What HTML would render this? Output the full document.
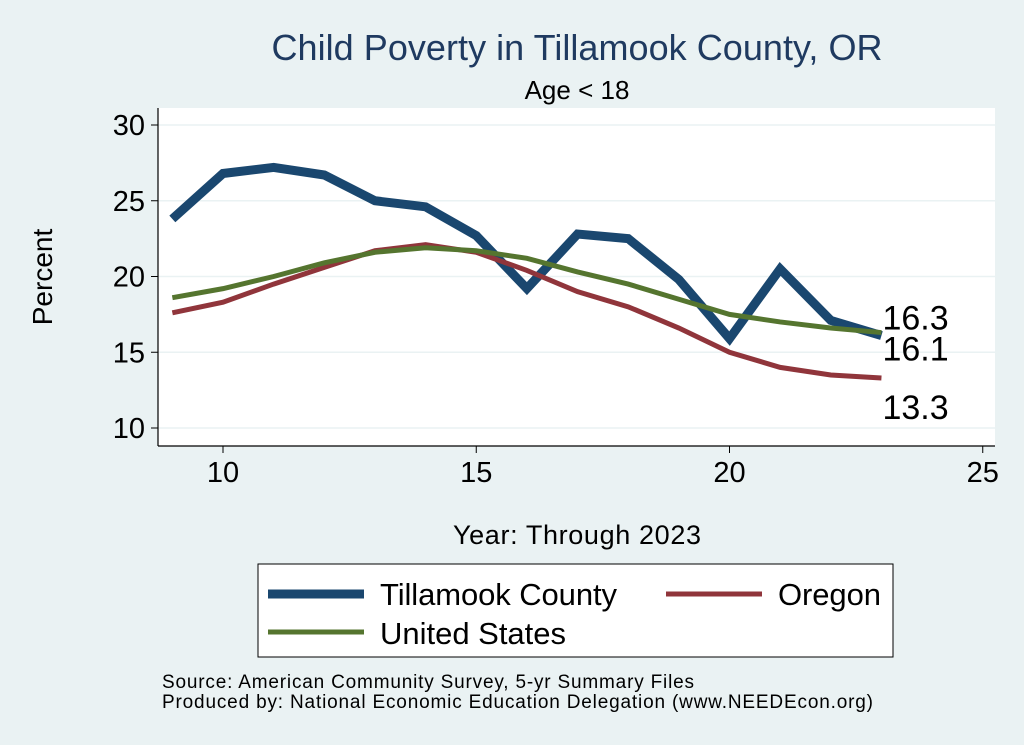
<!DOCTYPE html>
<html><head><meta charset="utf-8"><style>
html,body{margin:0;padding:0;background:#eaf2f3;}
svg{display:block;font-family:"Liberation Sans",Arial,sans-serif;}
</style></head><body>
<svg id="chart" width="1024" height="745" viewBox="0 0 1024 745">
<rect x="0" y="0" width="1024" height="745" fill="#eaf2f3"/>
<text x="577" y="60" font-size="36" fill="#1f3a60" text-anchor="middle" textLength="611">Child Poverty in Tillamook County, OR</text>
<text x="577" y="99" font-size="26" fill="#000" text-anchor="middle">Age &lt; 18</text>
<rect x="158" y="108" width="837" height="338" fill="#fff"/>
<g id="grid"></g>
<line x1="158" y1="108" x2="158" y2="446" stroke="#000" stroke-width="1.2"/>
<line x1="158" y1="446" x2="995" y2="446" stroke="#000" stroke-width="1.2"/>
<g id="axes"></g>
<g id="series"></g>
<text x="52" y="277" font-size="28" text-anchor="middle" transform="rotate(-90 52 277)">Percent</text>
<text x="577" y="544" font-size="27" text-anchor="middle" textLength="248">Year: Through 2023</text>
<g>
<rect x="258" y="564" width="635" height="93" fill="#fff" stroke="#000" stroke-width="1"/>
<line x1="268" y1="594" x2="364" y2="594" stroke="#1a476f" stroke-width="9"/>
<text x="380" y="605" font-size="31" textLength="237">Tillamook County</text>
<line x1="666" y1="594" x2="762" y2="594" stroke="#90353b" stroke-width="5"/>
<text x="778" y="605" font-size="31" textLength="103">Oregon</text>
<line x1="268" y1="632" x2="364" y2="632" stroke="#55752f" stroke-width="5"/>
<text x="380" y="644" font-size="31" textLength="186">United States</text>
</g>
<text x="162" y="688" font-size="19" textLength="532">Source: American Community Survey, 5-yr Summary Files</text>
<text x="162" y="708" font-size="19" textLength="711">Produced by: National Economic Education Delegation (www.NEEDEcon.org)</text>
</svg>
<script>
const years=[9,10,11,12,13,14,15,16,17,18,19,20,21,22,23];
const tillamook=[23.8,26.8,27.2,26.7,25.0,24.6,22.7,19.2,22.8,22.5,19.8,15.9,20.5,17.1,16.1];
const oregon=[17.6,18.3,19.5,20.6,21.7,22.1,21.6,20.4,19.0,18.0,16.6,15.0,14.0,13.5,13.3];
const us=[18.6,19.2,20.0,20.9,21.6,21.9,21.7,21.2,20.3,19.5,18.5,17.5,17.0,16.6,16.3];
const xTicks=[10,15,20,25];
const yTicks=[10,15,20,25,30];
const NS="http://www.w3.org/2000/svg";
function xs(v){return 223+(v-10)*50.65;}
function ys(v){return 428-(v-10)*15.15;}
function mk(tag,attrs,parent){const e=document.createElementNS(NS,tag);for(const k in attrs)e.setAttribute(k,attrs[k]);parent.appendChild(e);return e;}
const grid=document.getElementById('grid'),axes=document.getElementById('axes'),ser=document.getElementById('series');
yTicks.forEach(t=>{
 const g=mk('line',{x1:158,x2:995,y1:ys(t),y2:ys(t),stroke:'#eaf2f3','stroke-width':1.5},grid);
 
 
 const tk=mk('line',{x1:151,x2:158,y1:ys(t),y2:ys(t),stroke:'#000'},axes);
 
 
 const tx=mk('text',{x:145,y:ys(t)+10,'font-size':29,'text-anchor':'end'},axes);tx.textContent=t;
 
 
});
xTicks.forEach(t=>{
 const tk=mk('line',{x1:xs(t),x2:xs(t),y1:446,y2:453,stroke:'#000'},axes);
 
 
 const tx=mk('text',{x:xs(t),y:482,'font-size':29,'text-anchor':'middle'},axes);tx.textContent=t;
 
 
});
function line(vals,color,w,name){
 const p=mk('polyline',{points:vals.map((v,i)=>xs(years[i])+','+ys(v)).join(' '),fill:'none',stroke:color,'stroke-width':w,'stroke-linejoin':'miter'},ser);
 
 
}
line(tillamook,'#1a476f',9,'line-tillamook');
line(oregon,'#90353b',5,'line-oregon');
line(us,'#55752f',5,'line-us');
const lx=xs(years[years.length-1]);
function lab(v,dy,name){
 const t=mk('text',{x:lx+1,y:ys(v)+dy,'font-size':34},ser);t.textContent=v.toFixed(1);
 
 
}
lab(us[us.length-1],-3,'end-label-us');
lab(tillamook[tillamook.length-1],25,'end-label-tillamook');
lab(oregon[oregon.length-1],41,'end-label-oregon');
</script>
</body></html>
